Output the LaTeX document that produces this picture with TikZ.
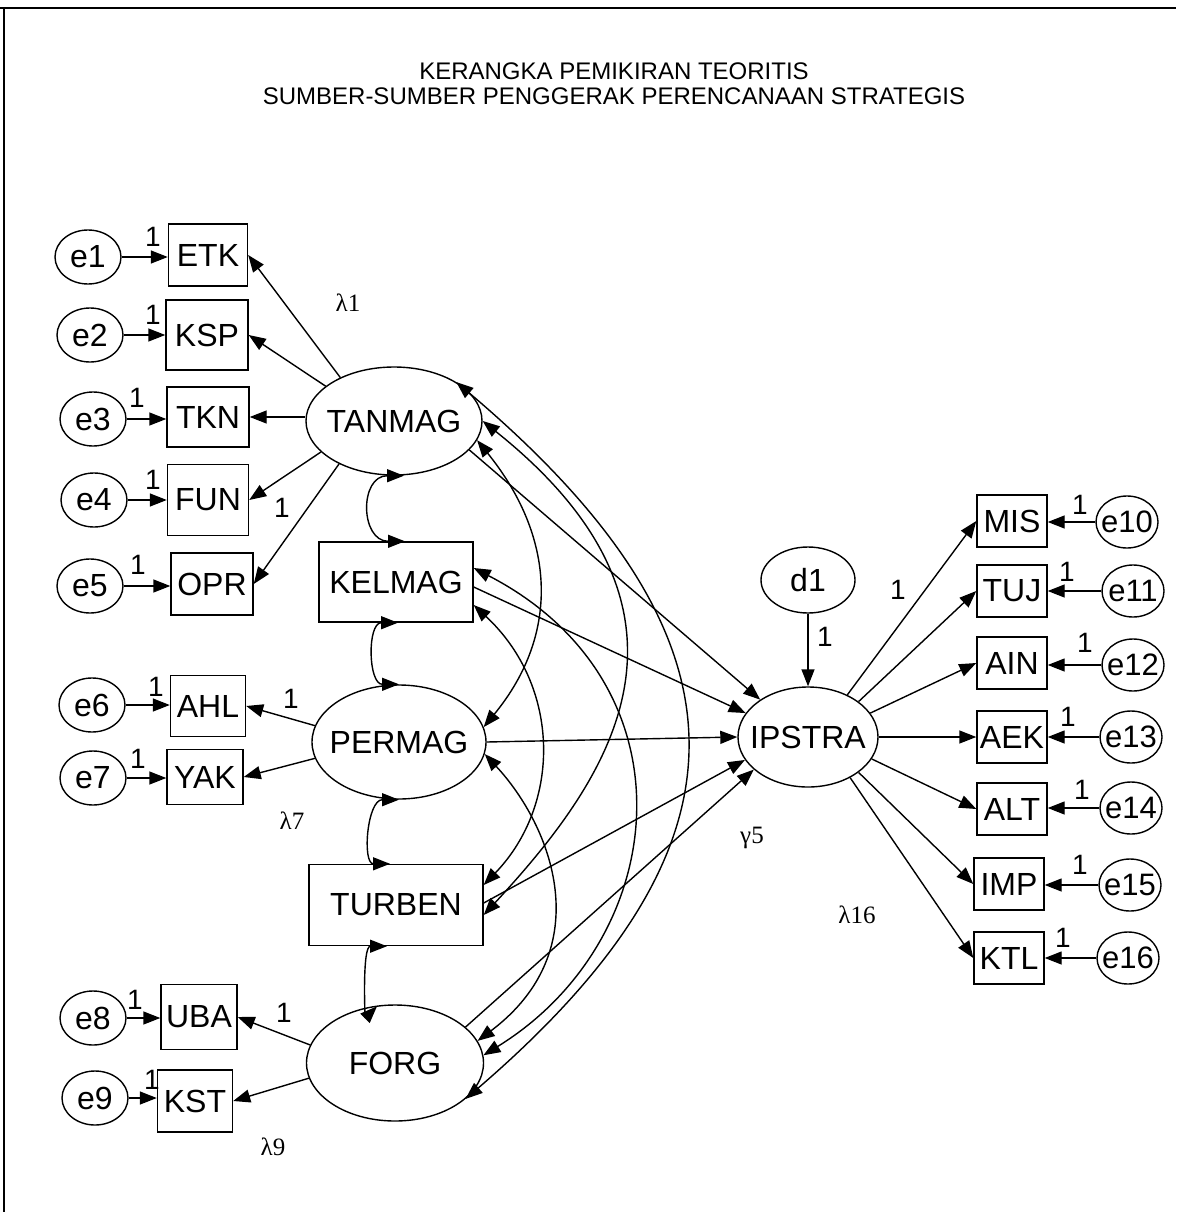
\documentclass[tikz,border=0pt]{standalone}
\usepackage{fontspec}
\setmainfont{Liberation Sans}
\newfontfamily\grfont{Liberation Serif}
\usetikzlibrary{arrows.meta,shapes.geometric,calc}
\newcommand\zw[1]{\makebox[0pt]{#1}}
\begin{document}
\begin{tikzpicture}[x=1pt,y=-1pt,
  lat/.style={ellipse,draw,line width=1.4pt,inner sep=0pt,font=\fontsize{32}{36}\selectfont},
  obs/.style={rectangle,draw,line width=1.4pt,inner sep=0pt,font=\fontsize{32}{36}\selectfont},
  errl/.style={ellipse,draw,line width=1.4pt,inner sep=0pt,minimum width=66pt,minimum height=54pt,font=\fontsize{32}{36}\selectfont},
  errr/.style={ellipse,draw,line width=1.4pt,inner sep=0pt,minimum width=62pt,minimum height=52pt,font=\fontsize{31}{36}\selectfont},
  rbox/.style={obs,minimum width=70pt,minimum height=52pt},
  arr/.style={-{Triangle[length=17pt,width=13pt]},line width=1.4pt},
  dbl/.style={{Triangle[length=17pt,width=13pt]}-{Triangle[length=17pt,width=13pt]},line width=1.4pt},
  one/.style={font=\fontsize{28}{30}\selectfont,inner sep=0pt},
  gr/.style={font=\grfont\fontsize{25}{28}\selectfont,inner sep=0pt}
]
\useasboundingbox (0,0) rectangle (1176,1212);
\fill[white] (0,0) rectangle (1176,1212);
% frame
\draw[line width=2.2pt] (0,8) -- (1176,8);
\draw[line width=2.2pt] (4,8) -- (4,1212);

% title
\node[align=center,font=\fontsize{24}{25}\selectfont,inner sep=0pt] (title) at (614,84)
  {KERANGKA PEMIKIRAN TEORITIS\\SUMBER-SUMBER PENGGERAK PERENCANAAN STRATEGIS};

% latent / central nodes
\node[lat,minimum width=176pt,minimum height=108pt] (tanmag) at (394,421) {\zw{TANMAG}};
\node[obs,minimum width=154pt,minimum height=80pt] (kelmag) at (396,582) {KELMAG};
\node[lat,minimum width=174pt,minimum height=114pt] (permag) at (399,742) {\zw{PERMAG}};
\node[obs,minimum width=174pt,minimum height=81pt] (turben) at (396,905) {TURBEN};
\node[lat,minimum width=177pt,minimum height=116pt] (forg) at (395,1063) {\zw{FORG}};
\node[lat,minimum width=140pt,minimum height=100pt] (ipstra) at (808,737) {\zw{IPSTRA}};
\node[lat,minimum width=94pt,minimum height=66pt] (d1) at (808,580) {\zw{d1}};

% left indicators
\node[obs,minimum width=79pt,minimum height=62pt] (etk) at (208,255) {ETK};
\node[obs,minimum width=82pt,minimum height=70pt] (ksp) at (207,335) {KSP};
\node[obs,minimum width=82pt,minimum height=60pt] (tkn) at (208,417) {TKN};
\node[obs,minimum width=81pt,minimum height=71pt] (fun) at (208,500) {FUN};
\node[obs,minimum width=82pt,minimum height=62pt] (opr) at (212,584) {OPR};
\node[obs,minimum width=75pt,minimum height=61pt] (ahl) at (208,706) {AHL};
\node[obs,minimum width=76pt,minimum height=55pt] (yak) at (205,777) {YAK};
\node[obs,minimum width=76pt,minimum height=65pt] (uba) at (199,1017) {UBA};
\node[obs,minimum width=75pt,minimum height=62pt] (kst) at (195,1101) {KST};

% left errors
\node[errl] (e1) at (88,257) {\zw{e1}};
\node[errl] (e2) at (90,335) {\zw{e2}};
\node[errl] (e3) at (93,419) {\zw{e3}};
\node[errl] (e4) at (94,500) {\zw{e4}};
\node[errl] (e5) at (90,586) {\zw{e5}};
\node[errl] (e6) at (92,705) {\zw{e6}};
\node[errl] (e7) at (93,778) {\zw{e7}};
\node[errl] (e8) at (93,1018) {\zw{e8}};
\node[errl] (e9) at (95,1098) {\zw{e9}};

% right indicators
\node[rbox] (mis) at (1012,521) {MIS};
\node[rbox] (tuj) at (1012,591) {TUJ};
\node[rbox] (ain) at (1012,663) {AIN};
\node[rbox] (aek) at (1012,737) {AEK};
\node[rbox] (alt) at (1012,809) {ALT};
\node[rbox] (imp) at (1009,884) {IMP};
\node[rbox] (ktl) at (1009,958) {KTL};

% right errors
\node[errr] (e10) at (1127,522) {\zw{e10}};
\node[errr] (e11) at (1133,591) {\zw{e11}};
\node[errr] (e12) at (1133,665) {\zw{e12}};
\node[errr] (e13) at (1131,737) {\zw{e13}};
\node[errr] (e14) at (1131,808) {\zw{e14}};
\node[errr] (e15) at (1130,885) {\zw{e15}};
\node[errr] (e16) at (1128,958) {\zw{e16}};

% error -> indicator
\foreach \e/\b in {e1/etk,e2/ksp,e3/tkn,e4/fun,e5/opr,e6/ahl,e7/yak,e8/uba,e9/kst}
  \draw[arr] (\e) -- (\e -| \b.west);
\foreach \e/\b in {e10/mis,e11/tuj,e12/ain,e13/aek,e14/alt,e15/imp,e16/ktl}
  \draw[arr] (\e) -- (\e -| \b.east);

% loadings
\draw[arr] (tanmag.141) -- (etk.east);
\draw[arr] (tanmag.153) -- (ksp.east);
\draw[arr] (tkn.east -| tanmag.west) -- (tkn.east);
\draw[arr] (tanmag.203) -- (fun.east);
\draw[arr] (tanmag.218) -- (opr.east);
\draw[arr] (permag.169) -- (ahl.east);
\draw[arr] (permag.191) -- (yak.east);
\draw[arr] (forg.168) -- (uba.east);
\draw[arr] (forg.190) -- (kst.east);
\draw[arr] (ipstra.47) -- (mis.west);
\draw[arr] (ipstra.35) -- (tuj.west);
\draw[arr] (ipstra.21) -- (ain.west);
\draw[arr] (ipstra.east) -- (aek.west);
\draw[arr] (ipstra.-19) -- (alt.west);
\draw[arr] (ipstra.-35) -- (imp.west);
\draw[arr] (ipstra.-44) -- (ktl.west);
\draw[arr] (d1.south) -- (ipstra.north);

% structural paths
\draw[arr] (tanmag.-21) -- (ipstra.142);
\draw[arr] ($(kelmag.east)+(0,5)$) -- (ipstra.159);
\draw[arr] (permag.east) -- (ipstra.west);
\draw[arr] ($(turben.east)+(0,-2)$) -- (ipstra.200);
\draw[arr] (forg.27) -- (ipstra.211);

% adjacent covariances (loops)
\draw[dbl] ($(tanmag.south)+(10,0)$) .. controls +(-45,0) and +(-45,0) .. ($(kelmag.north)+(9,0)$);
\draw[dbl] ($(kelmag.south)+(2,0)$) .. controls +(-31,0) and +(-31,0) .. (permag.north);
\draw[dbl] (permag.south) .. controls +(-32,0) and +(-28,0) .. ($(turben.north)+(-6,0)$);
\draw[dbl] ($(turben.south)+(-9,0)$) .. controls +(-25,0) and +(-12,12) .. ($(forg.north)+(-18,2)$);

% long covariances
\draw[dbl] (tanmag.-13) .. controls +(77,95) and +(78,-95) .. (permag.10);
\draw[dbl] (tanmag.east) .. controls +(243,194) and +(124,-134) .. ($(turben.east)+(0,10)$);
\draw[dbl] (tanmag.32) .. controls +(312,264) and +(288,-248) .. (forg.-27);
\draw[dbl] ($(kelmag.east)+(0,23)$) .. controls +(87,81) and +(78,-81) .. ($(turben.east)+(0,-20)$);
\draw[dbl] ($(kelmag.east)+(0,-14)$) .. controls +(224,116) and +(188,-116) .. (forg.5);
\draw[dbl] (permag.-8) .. controls +(67,72) and +(122,-92) .. (forg.15);

% "1" labels
\node[one] (l1) at (153,237) {1};
\node[one] (l2) at (153,315) {1};
\node[one] (l3) at (137,398) {1};
\node[one] (l4) at (153,480) {1};
\node[one] (l5) at (138,565) {1};
\node[one] (l6) at (156,687) {1};
\node[one] (l7) at (138,759) {1};
\node[one] (l8) at (135,1000) {1};
\node[one] (l9) at (152,1080) {1};
\node[one] (lopr) at (282,508) {1};
\node[one] (lahl) at (291,699) {1};
\node[one] (luba) at (284,1013) {1};
\node[one] (lmis) at (898,590) {1};
\node[one] (ld1) at (825,637) {1};
\node[one] (l10) at (1080,505) {1};
\node[one] (l11) at (1067,572) {1};
\node[one] (l12) at (1085,643) {1};
\node[one] (l13) at (1068,717) {1};
\node[one] (l14) at (1082,790) {1};
\node[one] (l15) at (1080,865) {1};
\node[one] (l16) at (1063,938) {1};

% greek labels
\node[gr] (g1) at (348,303) {λ1};
\node[gr] (g7) at (292,821) {λ7};
\node[gr] (g9) at (273,1147) {λ9};
\node[gr] (g5) at (752,838) {γ5};
\node[gr] (g16) at (857,915) {λ16};
\end{tikzpicture}
\end{document}
